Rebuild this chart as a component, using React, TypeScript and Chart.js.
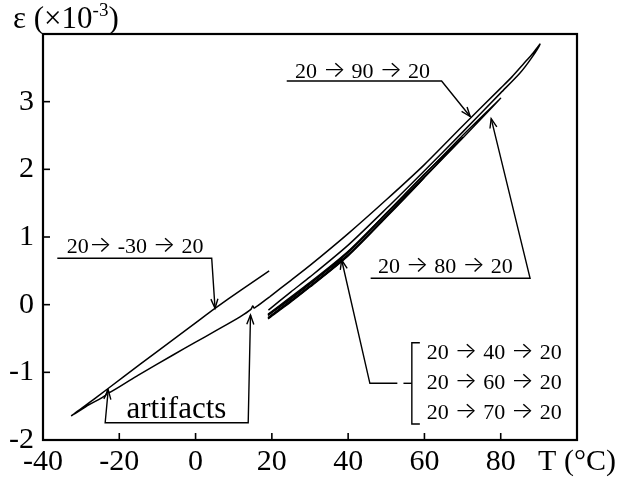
import React, { useEffect, useRef } from 'react';
import { Chart, registerables } from 'chart.js';

Chart.register(...registerables);

// ---------- axis ticks ----------
const X_TICKS = [-40, -20, 0, 20, 40, 60, 80, 100];
const X_TICK_LABELS = ['-40', '-20', '0', '20', '40', '60', '80', 'T (°C)'];
const Y_TICKS = [-2, -1, 0, 1, 2, 3, 4];
const Y_TICK_LABELS = ['-2', '-1', '0', '1', '2', '3', ''];

// ---------- 20 → -30 → 20 loop ----------
const COLD_T = [19.3, 12, 5, 0, -10, -19, -26, -32.5, -28, -23.6, -23.0, -22.6, -15, -5.8, 0, 5, 11.65, 14.5, 15.0, 15.4, 19.5];
const COLD_E = [0.5, 0.22, -0.06, -0.27, -0.69, -1.07, -1.37, -1.64, -1.48, -1.34, -1.26, -1.3, -1.04, -0.74, -0.555, -0.395, -0.18, -0.07, -0.02, -0.05, 0.12];

// ---------- 20 → 90 → 20 loop ----------
const HOT_T = [19.5, 25, 30, 40, 50, 60, 70, 80, 83, 86, 88.5, 90.3, 88, 85, 80, 70, 60, 50, 40, 30, 25, 19.1];
const HOT_E = [0.12, 0.36, 0.58, 1.05, 1.55, 2.07, 2.64, 3.2, 3.37, 3.56, 3.72, 3.85, 3.64, 3.42, 3.13, 2.55, 1.98, 1.42, 0.88, 0.41, 0.19, -0.08];

// ---------- 20 → 40/60/70/80 → 20 loops ----------
const L40_T = [19, 25, 30, 35, 40, 35, 30, 25, 19];
const L40_E = [-0.2, 0.05, 0.27, 0.49, 0.73, 0.53, 0.31, 0.09, -0.15];
const L60_T = [19, 25, 30, 40, 50, 60, 50, 40, 30, 25, 19];
const L60_E = [-0.21, 0.04, 0.26, 0.72, 1.29, 1.88, 1.34, 0.77, 0.31, 0.09, -0.16];
const L70_T = [19, 30, 40, 50, 60, 70, 60, 50, 40, 30, 19];
const L70_E = [-0.19, 0.28, 0.74, 1.31, 1.89, 2.47, 1.93, 1.35, 0.79, 0.33, -0.14];
const L80_T = [19, 30, 40, 50, 60, 70, 80, 70, 60, 50, 40, 30, 19];
const L80_E = [-0.2, 0.27, 0.73, 1.3, 1.88, 2.46, 3.05, 2.5, 1.92, 1.35, 0.78, 0.31, -0.15];

// ---------- annotation texts ----------
const LABEL_M30 = '20→ -30 → 20';
const LABEL_90 = '20 → 90 → 20';
const LABEL_80 = '20 → 80 → 20';
const LABEL_ART = 'artifacts';
const BRACKET_LABELS = ['20 → 40 → 20', '20 → 60 → 20', '20 → 70 → 20'];

// annotation anchors (data coordinates)
const ANNOT = {
  m30: { text: [-33.8, 0.76], path: [[-36.25, 0.685], [4.23, 0.685], [5.1, -0.053]] },
  h90: { text: [26.1, 3.35], path: [[23.9, 3.305], [64.5, 3.305], [72.0, 2.78]] },
  h80: { text: [47.8, 0.47], path: [[45.9, 0.39], [87.7, 0.39], [77.5, 2.75]] },
  art: { text: [-18.1, -1.67], path: [[-22.9, -1.26], [-23.7, -1.744], [13.8, -1.744], [14.4, -0.153]] },
  br: {
    textX: 60.6,
    baselines: [-0.807, -1.25, -1.694],
    lead: [[52.9, -1.162], [45.7, -1.162], [38.3, 0.66]],
    bracket: [[58.8, -0.562], [56.7, -0.562], [56.7, -1.763], [58.8, -1.763]],
    mid: [[56.7, -1.162], [54.5, -1.162]],
  },
};

const SERIF = '"Liberation Serif", "DejaVu Serif", serif';
const ARROW_FONT = 'Inter, "DejaVu Sans", sans-serif';

const pts = (xs: number[], ys: number[]) => xs.map((v, i) => ({ x: v, y: ys[i] }));

function arrowHead(ctx: CanvasRenderingContext2D, fx: number, fy: number, tx: number, ty: number) {
  const ang = Math.atan2(ty - fy, tx - fx);
  const len = 10;
  const a = 0.36;
  ctx.beginPath();
  ctx.moveTo(tx - len * Math.cos(ang - a), ty - len * Math.sin(ang - a));
  ctx.lineTo(tx, ty);
  ctx.lineTo(tx - len * Math.cos(ang + a), ty - len * Math.sin(ang + a));
  ctx.stroke();
}

// draws text; the arrow characters are drawn as real glyphs, stretched to a long thin arrow
function richText(ctx: CanvasRenderingContext2D, s: string, x: number, y: number, size: number) {
  const parts = s.split('→');
  let cx = x;
  parts.forEach((part, i) => {
    ctx.font = `${size}px ${SERIF}`;
    ctx.fillText(part, cx, y);
    cx += ctx.measureText(part).width;
    if (i < parts.length - 1) {
      ctx.font = `300 ${size}px ${ARROW_FONT}`;
      const m = ctx.measureText('→');
      const inkL = m.actualBoundingBoxLeft || 0;
      const inkW = (m.actualBoundingBoxRight || m.width) + inkL;
      const target = size * 0.84;
      const sx = target / inkW;
      const start = cx + 2.5;
      ctx.save();
      ctx.translate(start + inkL * sx, y - 1);
      ctx.scale(sx, 1);
      ctx.fillText('→', 0, 0);
      ctx.restore();
      cx = start + target + 2.5;
    }
  });
}

const annotPlugin = {
  id: 'annot',
  afterDraw(chart: any) {
    const { ctx, chartArea: ca, scales } = chart;
    const xs = scales.x;
    const ys = scales.y;
    const P = (p: number[]) => [xs.getPixelForValue(p[0]), ys.getPixelForValue(p[1])];
    ctx.save();
    ctx.strokeStyle = '#000';
    ctx.fillStyle = '#000';
    ctx.lineCap = 'butt';
    ctx.lineJoin = 'miter';

    // frame
    ctx.lineWidth = 2.2;
    ctx.strokeRect(ca.left, ca.top, ca.right - ca.left, ca.bottom - ca.top);

    // inward ticks
    ctx.lineWidth = 1.6;
    X_TICKS.forEach((v) => {
      if (v <= xs.min || v >= xs.max) return;
      const X = xs.getPixelForValue(v);
      ctx.beginPath();
      ctx.moveTo(X, ca.bottom);
      ctx.lineTo(X, ca.bottom - 7);
      ctx.stroke();
    });
    Y_TICKS.forEach((v) => {
      if (v <= ys.min || v >= ys.max) return;
      const Y = ys.getPixelForValue(v);
      ctx.beginPath();
      ctx.moveTo(ca.left, Y);
      ctx.lineTo(ca.left + 7, Y);
      ctx.stroke();
    });

    // y-axis title
    ctx.font = `31px ${SERIF}`;
    ctx.textBaseline = 'alphabetic';
    ctx.textAlign = 'left';
    let tx = ca.left - 30;
    const tb = ca.top - 6;
    const main = 'ε (×10';
    ctx.fillText(main, tx, tb);
    tx += ctx.measureText(main).width;
    ctx.font = `19px ${SERIF}`;
    ctx.fillText('-3', tx, tb - 12);
    tx += ctx.measureText('-3').width;
    ctx.font = `31px ${SERIF}`;
    ctx.fillText(')', tx, tb);

    // leader lines
    const polyline = (path: number[][], startArrow: boolean, endArrow: boolean) => {
      const pp = path.map(P);
      ctx.lineWidth = 1.4;
      ctx.beginPath();
      pp.forEach((p, i) => (i === 0 ? ctx.moveTo(p[0], p[1]) : ctx.lineTo(p[0], p[1])));
      ctx.stroke();
      if (endArrow) {
        const a = pp[pp.length - 2];
        const b = pp[pp.length - 1];
        arrowHead(ctx, a[0], a[1], b[0], b[1]);
      }
      if (startArrow) {
        arrowHead(ctx, pp[1][0], pp[1][1], pp[0][0], pp[0][1]);
      }
    };

    polyline(ANNOT.m30.path, false, true);
    polyline(ANNOT.h90.path, false, true);
    polyline(ANNOT.h80.path, false, true);
    polyline(ANNOT.art.path, true, true);
    polyline(ANNOT.br.lead, false, true);
    polyline(ANNOT.br.bracket, false, false);
    polyline(ANNOT.br.mid, false, false);

    // texts
    const txt = (s: string, p: number[], size: number) => {
      const q = P(p);
      richText(ctx, s, q[0], q[1], size);
    };
    txt(LABEL_M30, ANNOT.m30.text, 22);
    txt(LABEL_90, ANNOT.h90.text, 22);
    txt(LABEL_80, ANNOT.h80.text, 22);
    BRACKET_LABELS.forEach((s, i) => txt(s, [ANNOT.br.textX, ANNOT.br.baselines[i]], 22));
    txt(LABEL_ART, ANNOT.art.text, 31);

    ctx.restore();
  },
};

export default function App() {
  const ref = useRef<HTMLCanvasElement | null>(null);

  useEffect(() => {
    document.body.style.margin = '0';
    const canvas = ref.current;
    if (!canvas) return;
    const line = (data: any[], width = 1.5) => ({
      data,
      showLine: true,
      borderColor: '#000',
      backgroundColor: '#000',
      borderWidth: width,
      pointRadius: 0,
      tension: 0.25,
      fill: false,
    });
    const chart = new Chart(canvas, {
      type: 'scatter',
      data: {
        datasets: [
          line(pts(COLD_T, COLD_E), 1.5),
          line(pts(HOT_T, HOT_E), 1.5),
          line(pts(L40_T, L40_E), 1.4),
          line(pts(L60_T, L60_E), 1.4),
          line(pts(L70_T, L70_E), 1.4),
          line(pts(L80_T, L80_E), 1.4),
        ],
      },
      options: {
        animation: false,
        responsive: false,
        maintainAspectRatio: false,
        devicePixelRatio: 1,
        layout: { padding: { top: 34, right: 43, left: 0, bottom: 0 } },
        plugins: { legend: { display: false }, tooltip: { enabled: false }, title: { display: false } },
        scales: {
          x: {
            type: 'linear',
            min: -40,
            max: 100,
            grid: { display: false, drawTicks: false },
            border: { display: false },
            afterBuildTicks: (s: any) => {
              s.ticks = X_TICKS.map((v) => ({ value: v }));
            },
            afterFit: (s: any) => {
              s.height = 43;
            },
            ticks: {
              autoSkip: false,
              maxRotation: 0,
              padding: 4,
              color: '#000',
              font: { family: SERIF, size: 30 },
              callback: (v: any) => {
                const i = X_TICKS.indexOf(Number(v));
                return i >= 0 ? X_TICK_LABELS[i] : '';
              },
            },
          },
          y: {
            type: 'linear',
            min: -2,
            max: 4,
            grid: { display: false, drawTicks: false },
            border: { display: false },
            afterBuildTicks: (s: any) => {
              s.ticks = Y_TICKS.map((v) => ({ value: v }));
            },
            afterFit: (s: any) => {
              s.width = 43;
            },
            ticks: {
              autoSkip: false,
              padding: 9,
              color: '#000',
              font: { family: SERIF, size: 30 },
              callback: (v: any) => {
                const i = Y_TICKS.indexOf(Number(v));
                return i >= 0 ? Y_TICK_LABELS[i] : '';
              },
            },
          },
        },
      },
      plugins: [annotPlugin],
    } as any);
    return () => chart.destroy();
  }, []);

  return (
    <div style={{ width: 620, height: 483, background: '#fff' }}>
      <canvas ref={ref} width={620} height={483} style={{ display: 'block', width: 620, height: 483 }} />
    </div>
  );
}
